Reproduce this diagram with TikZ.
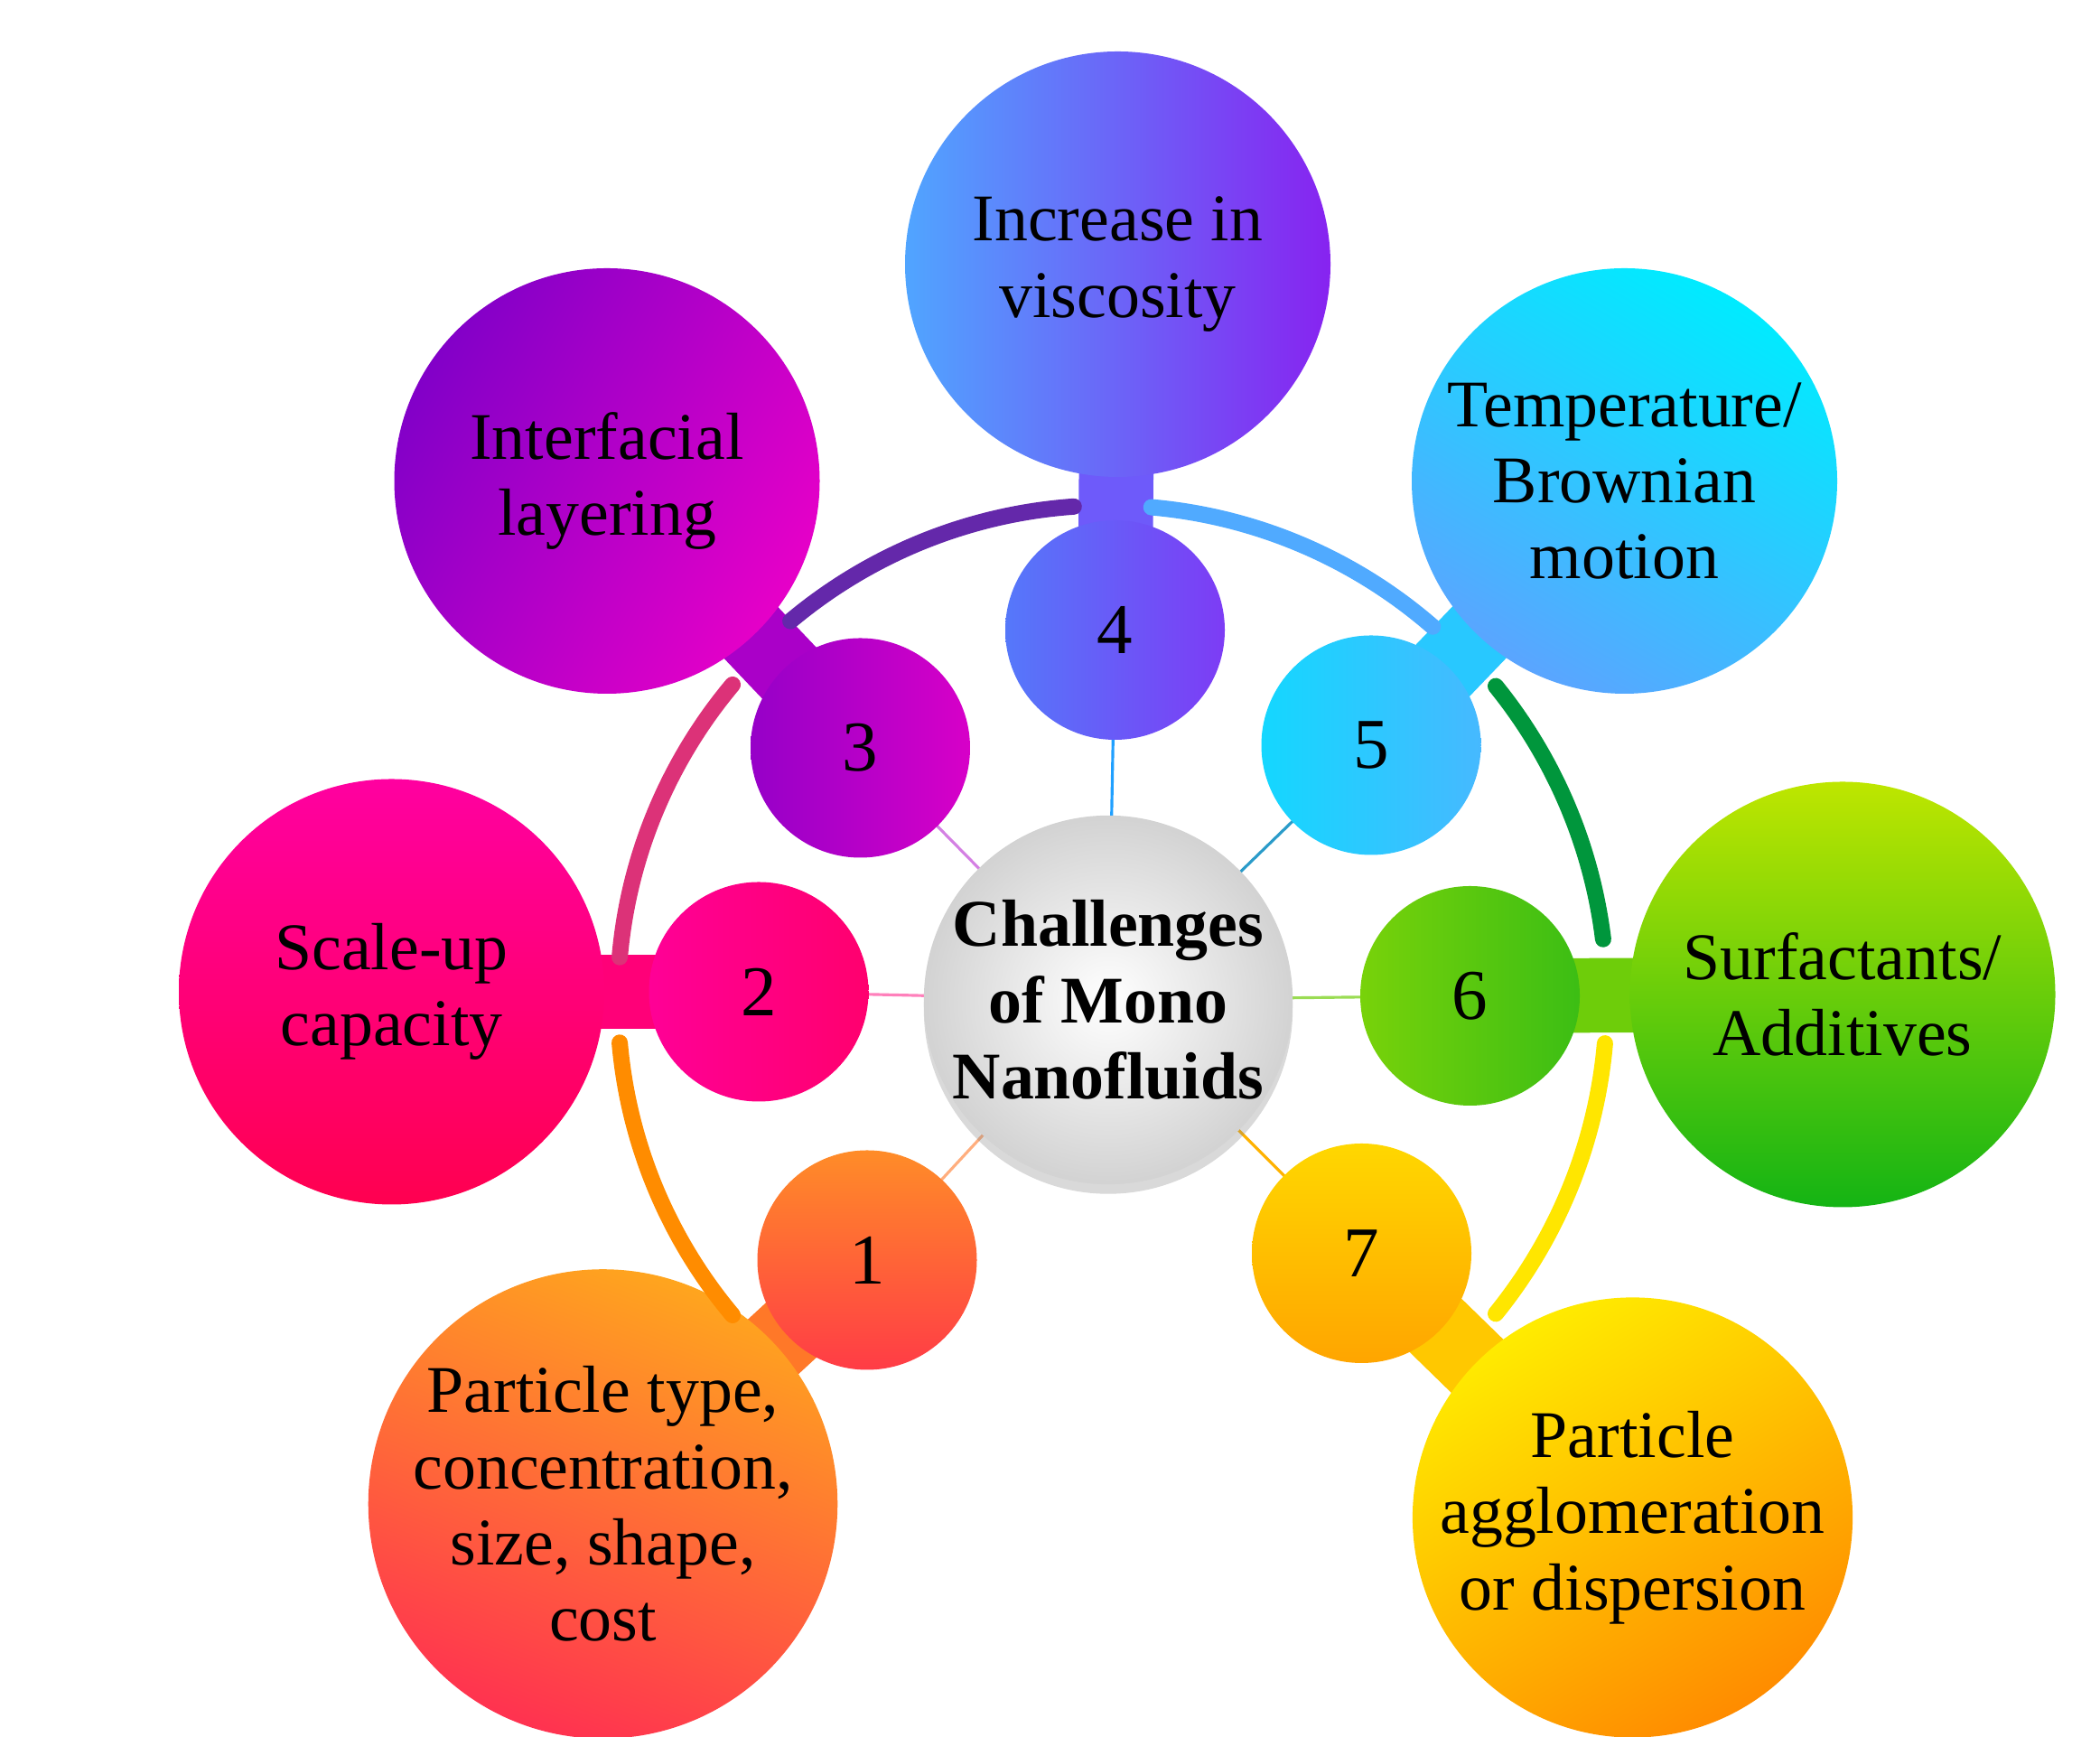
\documentclass[tikz,border=0pt]{standalone}
\usepackage{fontspec}
\setmainfont{Liberation Serif}
\usetikzlibrary{shadows}
\definecolor{ora}{RGB}{255,120,40}
\definecolor{pnk}{RGB}{255,0,120}
\definecolor{mag}{RGB}{170,0,200}
\definecolor{vio}{RGB}{110,90,250}
\definecolor{cya}{RGB}{40,200,255}
\definecolor{grn}{RGB}{110,205,10}
\definecolor{yel}{RGB}{255,200,0}
\tikzset{
  big/.style={circle, minimum size=3.14cm, inner sep=0pt, align=center,
    font=\fontsize{14}{16}\selectfont},
  small/.style={circle, minimum size=1.62cm, inner sep=0pt,
    font=\fontsize{15}{17}\selectfont},
  neck/.style={line width=0.55cm},
  ring/.style={line width=0.12cm, line cap=round},
  spoke/.style={line width=0.6pt}
}
\begin{document}
\begin{tikzpicture}
  \useasboundingbox (0,0) rectangle (15.5,12.82);
  \coordinate (c) at (8.18,5.44);

  % spokes
  \draw[spoke, ora!60] (c) -- (6.40,3.52);
  \draw[spoke, pnk!50] (c) -- (5.60,5.50);
  \draw[spoke, mag!50] (c) -- (6.35,7.30);
  \draw[spoke, cya!80!blue] (c) -- (8.23,8.17);
  \draw[spoke, cyan!60!teal] (c) -- (10.12,7.32);
  \draw[spoke, grn!70] (c) -- (10.85,5.47);
  \draw[spoke, yel!70!orange] (c) -- (10.05,3.57);

  % necks
  \draw[neck, ora] (6.40,3.52) -- (4.45,1.72);
  \draw[neck, pnk] (5.60,5.50) -- (2.89,5.50);
  \draw[neck, mag] (6.35,7.30) -- (4.48,9.27);
  \draw[neck, vio] (8.23,8.17) -- (8.25,10.87);
  \draw[neck, cya] (10.12,7.32) -- (11.99,9.27);
  \draw[neck, grn] (10.85,5.47) -- (13.60,5.48);
  \draw[neck, yel] (10.05,3.57) -- (12.05,1.62);

  % big circles
  \node[big, top color={rgb,255:red,255;green,165;blue,30}, bottom color={rgb,255:red,255;green,50;blue,80}, shading angle=-20]
    (b1) at (4.45,1.72) {Particle type,\\concentration,\\size, shape,\\cost};
  \node[big, top color={rgb,255:red,255;green,0;blue,160}, bottom color={rgb,255:red,255;green,0;blue,80}]
    (b2) at (2.89,5.50) {Scale-up\\capacity};
  \node[big, left color={rgb,255:red,130;green,0;blue,200}, right color={rgb,255:red,230;green,0;blue,200}, shading angle=60]
    (b3) at (4.48,9.27) {Interfacial\\layering};
  \node[big, left color={rgb,255:red,80;green,165;blue,255}, right color={rgb,255:red,135;green,35;blue,240}]
    (b4) at (8.25,10.87) {Increase in\\viscosity};
  \node[big, top color={rgb,255:red,0;green,235;blue,255}, bottom color={rgb,255:red,90;green,165;blue,255}, shading angle=-30]
    (b5) at (11.99,9.27) {Temperature/\\Brownian\\motion};
  \node[big, top color={rgb,255:red,190;green,230;blue,0}, bottom color={rgb,255:red,20;green,180;blue,20}]
    (b6) at (13.60,5.48) {Surfactants/\\Additives};
  \node[big, top color={rgb,255:red,255;green,235;blue,0}, bottom color={rgb,255:red,255;green,140;blue,0}, shading angle=30]
    (b7) at (12.05,1.62) {Particle\\agglomeration\\or dispersion};

  % small circles
  \node[small, top color={rgb,255:red,255;green,140;blue,40}, bottom color={rgb,255:red,255;green,60;blue,70}] (s1) at (6.40,3.52) {1};
  \node[small, left color={rgb,255:red,255;green,0;blue,150}, right color={rgb,255:red,255;green,0;blue,110}] (s2) at (5.60,5.50) {2};
  \node[small, left color={rgb,255:red,150;green,0;blue,200}, right color={rgb,255:red,215;green,0;blue,200}] (s3) at (6.35,7.30) {3};
  \node[small, left color={rgb,255:red,85;green,120;blue,250}, right color={rgb,255:red,125;green,60;blue,245}] (s4) at (8.23,8.17) {4};
  \node[small, left color={rgb,255:red,20;green,215;blue,255}, right color={rgb,255:red,70;green,185;blue,255}] (s5) at (10.12,7.32) {5};
  \node[small, left color={rgb,255:red,120;green,210;blue,10}, right color={rgb,255:red,60;green,190;blue,20}] (s6) at (10.85,5.47) {6};
  \node[small, top color={rgb,255:red,255;green,215;blue,0}, bottom color={rgb,255:red,255;green,165;blue,0}] (s7) at (10.05,3.57) {7};

  % rings
  \draw[ring, draw={rgb,255:red,100;green,40;blue,170}] (c) ++(130:3.65) arc (130:94:3.65);
  \draw[ring, draw={rgb,255:red,80;green,170;blue,255}] (c) ++(85:3.65) arc (85:49:3.65);
  \draw[ring, draw={rgb,255:red,0;green,150;blue,60}] (c) ++(39:3.68) arc (39:7:3.68);
  \draw[ring, draw={rgb,255:red,255;green,230;blue,0}] (c) ++(-5:3.68) arc (-5:-39:3.68);
  \draw[ring, draw={rgb,255:red,220;green,50;blue,120}] (c) ++(140:3.62) arc (140:175:3.62);
  \draw[ring, draw={rgb,255:red,255;green,140;blue,0}] (c) ++(185:3.62) arc (185:220:3.62);

  % centre
  \node[circle, minimum size=2.36cm, inner sep=0pt, align=center, inner color=white, outer color=gray!35,
    drop shadow={shadow xshift=0pt, shadow yshift=-2pt, opacity=0.3},
    font=\fontsize{14}{16}\selectfont\bfseries] (ch) at (c) {Challenges\\of Mono\\Nanofluids};
\end{tikzpicture}
\end{document}
